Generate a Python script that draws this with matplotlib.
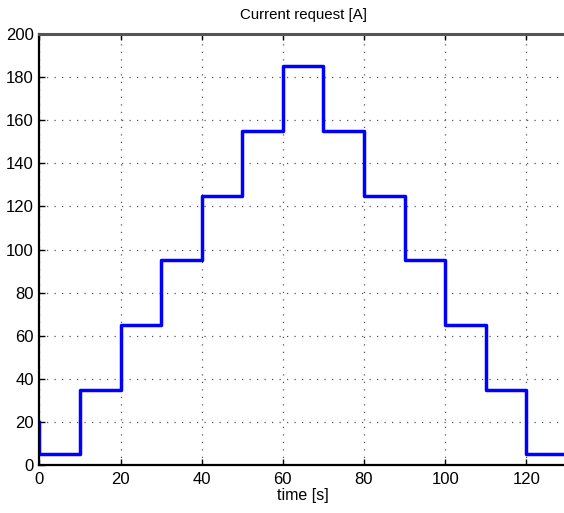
import matplotlib
matplotlib.use("Agg")
import matplotlib.pyplot as plt

plt.rcParams['font.family'] = ['Liberation Sans', 'DejaVu Sans']

# Current request profile: step edges (s) and level held from each edge (A)
time_edges = [0, 0, 10, 20, 30, 40, 50, 60, 70, 80, 90, 100, 110, 120, 130]
current_levels = [20, 5, 35, 65, 95, 125, 155, 185, 155, 125, 95, 65, 35, 5, 5]

x_ticks = [0, 20, 40, 60, 80, 100, 120]
y_ticks = [0, 20, 40, 60, 80, 100, 120, 140, 160, 180, 200]

fig = plt.figure(figsize=(5.64, 5.13), dpi=100)
ax = fig.add_axes([0.070, 0.0936, 0.935, 0.840])

ax.step(time_edges, current_levels, where='post', color='#0000ff', linewidth=2.5)

ax.set_xlim(0, 130)
ax.set_ylim(0, 200)
ax.set_xticks(x_ticks)
ax.set_yticks(y_ticks)
ax.tick_params(direction='in', length=4, width=1, labelsize=12, top=True)
ax.tick_params(axis='x', pad=5)
ax.tick_params(axis='y', pad=4)
ax.grid(True, linestyle=(0, (1, 5)), color='#555555', linewidth=0.9)

for side in ['left', 'bottom']:
    ax.spines[side].set_linewidth(1.6)
    ax.spines[side].set_color('black')
ax.spines['top'].set_linewidth(2.2)
ax.spines['top'].set_color('#555555')
ax.spines['right'].set_visible(False)

ax.set_title('Current request [A]', fontsize=10.8, pad=11)
ax.set_xlabel('time [s]', fontsize=11.5, labelpad=1)

fig.savefig('out.png', dpi=100)
